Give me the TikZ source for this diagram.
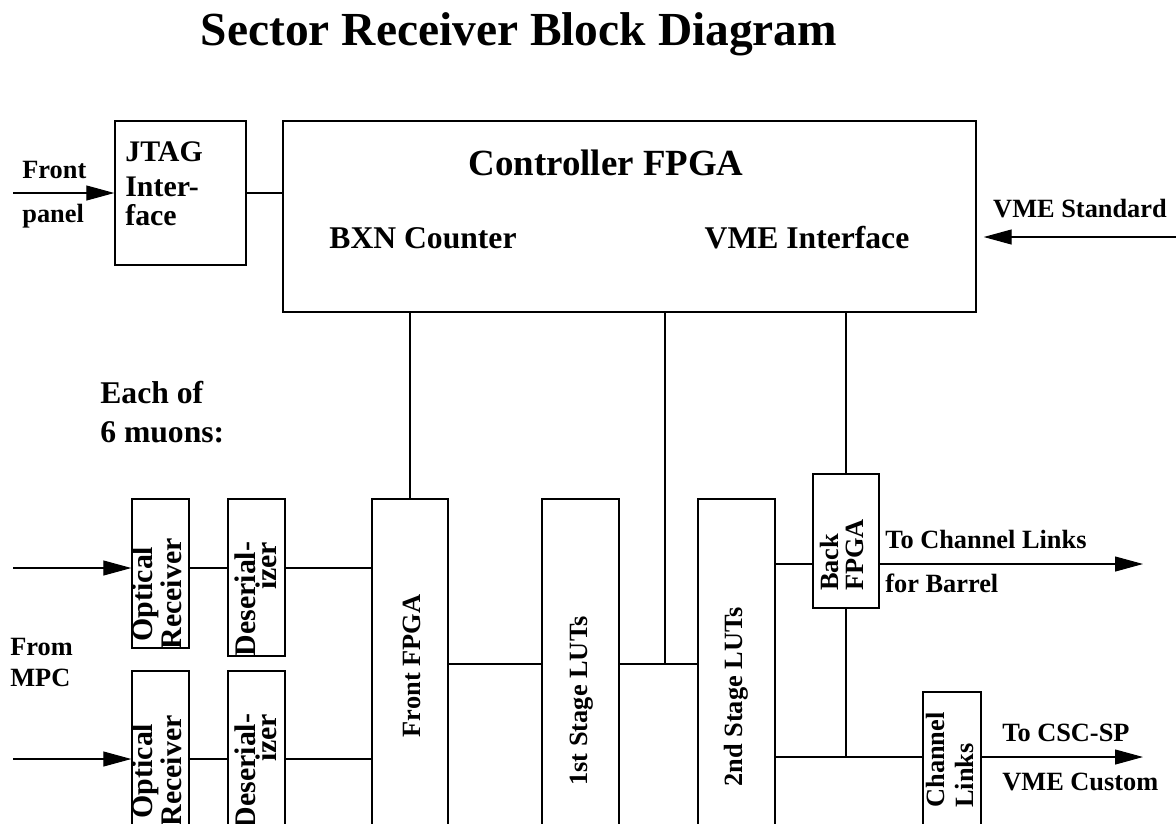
\documentclass[tikz,border=0pt]{standalone}
\usepackage{fontspec}
\setmainfont{Liberation Serif}
\usetikzlibrary{arrows.meta,fit}

\begin{document}
\begin{tikzpicture}[
    x=0.02cm, y=-0.02cm,
    box/.style={draw, line width=0.8pt, inner sep=0pt},
    wire/.style={line width=0.6pt},
    arr/.style={wire, -{Triangle[length=0.56cm,width=0.3cm]}},
    big/.style={inner sep=0pt, font=\bfseries\fontsize{18}{22}\selectfont},
    small/.style={inner sep=0pt, font=\bfseries\fontsize{15}{18}\selectfont},
    vtxt/.style={inner sep=0pt, rotate=90}
  ]
  \useasboundingbox (0,0) rectangle (1176,823);
  \clip (0,0) rectangle (1176,823);

  \node[big, anchor=base, font=\bfseries\fontsize{27}{32}\selectfont] (title) at (519,45) {Sector Receiver Block Diagram};

  \node[box, fit={(115,121) (246,265)}] (jtag) {};
  \node[box, fit={(283,121) (976,312)}] (ctrl) {};
  \node[box, fit={(132,499) (189,648)}] (optA) {};
  \node[box, fit={(228,499) (285,656)}] (desA) {};
  \node[box, fit={(132,671) (189,880)}] (optB) {};
  \node[box, fit={(228,671) (285,880)}] (desB) {};
  \node[box, fit={(372,499) (448,880)}] (front) {};
  \node[box, fit={(542,499) (619,880)}] (lut1) {};
  \node[box, fit={(698,499) (775,880)}] (lut2) {};
  \node[box, fit={(813,474) (879,608)}] (back) {};
  \node[box, fit={(923,692) (981,880)}] (chl) {};

  \node[big, anchor=base west, align=left, font=\bfseries\fontsize{17}{16}\selectfont] (jtagtxt) at (125,225) {JTAG\\[4pt]Inter-\\face};
  \node[big, anchor=base, font=\bfseries\fontsize{21}{25}\selectfont] (ctrltxt) at (606,175) {Controller FPGA};
  \node[big, anchor=base] (bxn) at (423,248) {BXN Counter};
  \node[big, anchor=base] (vmeif) at (807,248) {VME Interface};

  \node[small, anchor=base west, align=left, font=\bfseries\fontsize{15}{25}\selectfont] (fplbl) at (22,222) {Front\\panel};
  \node[small, anchor=base] (vmelbl) at (1080,217) {VME Standard};
  \node[big, anchor=base west, align=left] (each) at (100,442) {Each of\\6 muons:};
  \node[small, anchor=base west, align=left, font=\bfseries\fontsize{15}{17.6}\selectfont] (mpc) at (10,686) {From\\MPC};
  \node[small, anchor=base west, align=left, font=\bfseries\fontsize{15}{25}\selectfont] (barrel) at (885,592) {To Channel Links\\for Barrel};
  \node[small, anchor=base west, align=left, font=\bfseries\fontsize{15}{27.8}\selectfont] (csclbl) at (1002,790) {To CSC-SP\\VME Custom};

  \node[vtxt, align=center, font=\bfseries\fontsize{17}{13}\selectfont] (optAtxt) at (157,594) {Optical\\Receiver};
  \node[vtxt, align=right, font=\bfseries\fontsize{17}{12}\selectfont] (desAtxt) at (256,599) {Deserial-\\izer};
  \node[vtxt, align=center, font=\bfseries\fontsize{17}{13}\selectfont] (optBtxt) at (157,771) {Optical\\Receiver};
  \node[vtxt, align=right, font=\bfseries\fontsize{17}{12}\selectfont] (desBtxt) at (256,771) {Deserial-\\izer};
  \node[vtxt, small] (fronttxt) at (412,666) {Front FPGA};
  \node[vtxt, small] (lut1txt) at (582,701) {1st Stage LUTs};
  \node[vtxt, small] (lut2txt) at (736,697) {2nd Stage LUTs};
  \node[vtxt, align=left, font=\bfseries\fontsize{15}{14}\selectfont] (backtxt) at (842,555) {Back\\FPGA};
  \node[vtxt, align=left, font=\bfseries\fontsize{15}{16.5}\selectfont] (chltxt) at (950,760) {Channel\\Links};

  \coordinate (fpin) at (13,193);
  \coordinate (vmein) at (1176,237);
  \coordinate (jn) at (665,664);
  \coordinate (barrelout) at (1143,564);
  \coordinate (cscout) at (1143,757);

  \draw[arr] (fpin) -- (jtag.west |- fpin);
  \draw[wire] (jtag.east) -- (jtag.east -| ctrl.west);
  \draw[arr, shorten >=0.14cm] (vmein) -- (ctrl.east |- vmein);

  \draw[wire] (front.north |- ctrl.south) -- (front.north);
  \draw[wire] (jn |- ctrl.south) -- (jn);
  \draw[wire] (back.north |- ctrl.south) -- (back.north);

  \foreach \r/\y in {A/568, B/759} {
    \coordinate (in\r) at (13,\y);
    \draw[arr] (in\r) -- (opt\r.west |- in\r);
    \draw[wire] (opt\r.east |- in\r) -- (des\r.west |- in\r);
    \draw[wire] (des\r.east |- in\r) -- (front.west |- in\r);
  }

  \draw[wire] (front.east |- jn) -- (lut1.west |- jn);
  \draw[wire] (lut1.east |- jn) -- (lut2.west |- jn);
  \draw[wire] (lut2.east |- barrelout) -- (back.west |- barrelout);
  \draw[arr] (back.east |- barrelout) -- (barrelout);
  \draw[wire] (back.south) -- (back.south |- cscout);
  \draw[wire] (lut2.east |- cscout) -- (chl.west |- cscout);
  \draw[arr] (chl.east |- cscout) -- (cscout);
\end{tikzpicture}
\end{document}
